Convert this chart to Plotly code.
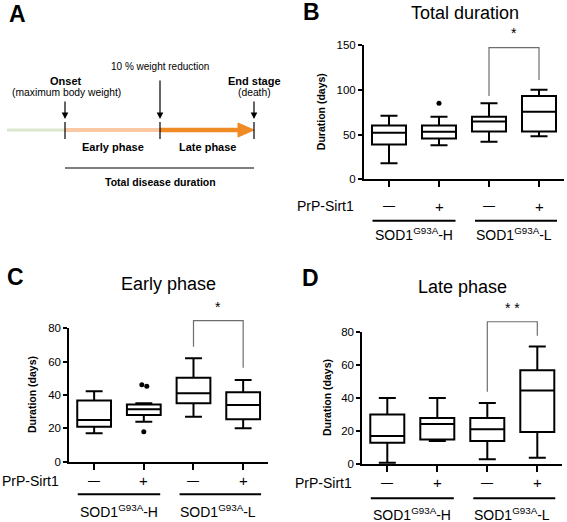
import plotly.graph_objects as go

W, H = 567, 522
FONT = "Liberation Sans, Arial, sans-serif"

# ---- data ----
# order: SOD1-H / -, SOD1-H / +, SOD1-L / -, SOD1-L / +
total_low = [18, 38, 42, 48]
total_q1 = [39, 45.5, 53.5, 53.5]
total_med = [52, 53, 64.5, 75.5]
total_q3 = [60, 60, 70, 93]
total_high = [71, 70, 85, 100]
total_out_x = [1]
total_out_y = [85]

early_low = [17, 24, 27, 20]
early_q1 = [21, 28, 35, 25.5]
early_med = [25, 31.5, 41, 34]
early_q3 = [36.7, 34.3, 50.3, 41.7]
early_high = [42.2, 35, 62, 49]
early_out_x = [1, 1, 1]
early_out_y = [46.2, 45.2, 18]

late_low = [1, 14, 3, 4]
late_q1 = [13, 15, 14, 19.5]
late_med = [17, 24.3, 21.2, 44.5]
late_q3 = [30, 28, 28, 56.7]
late_high = [40, 40, 37, 71]

prp_signs = ["—", "+", "—", "+"]
groups = ["SOD1<sup>G93A</sup>-H", "SOD1<sup>G93A</sup>-L"]


def px_x(x):
    return x / W


def px_y(y):
    return 1 - y / H


def note(x, y, text, size, xref="paper", yref="paper", **kw):
    d = dict(x=x, y=y, xref=xref, yref=yref, text=text, showarrow=False,
             xanchor="center", yanchor="middle",
             font=dict(family=FONT, size=size, color="black"))
    d.update(kw)
    return d


# panel geometry in pixels: (left, right, top, bottom)
panels = {
    "B": dict(box=(364, 564, 45, 179.3), ymax=150, dtick=50, ax="", title="Total duration",
              title_xy=(465, 13), letter_xy=(311, 12), ytitle_x=321,
              prp_y=206, line_y=220.7, grp_y=233.5,
              bracket=(93, 147, 111), star="*", star_y=163,
              stats=(total_low, total_q1, total_med, total_q3, total_high),
              out=(total_out_x, total_out_y)),
    "C": dict(box=(69.3, 268, 328.3, 461.7), ymax=80, dtick=20, ax="2", title="Early phase",
              title_xy=(168, 284), letter_xy=(15, 277), ytitle_x=32,
              prp_y=480.5, line_y=494.3, grp_y=511,
              bracket=(69, 84.6, 56.4), star="*", star_y=93,
              stats=(early_low, early_q1, early_med, early_q3, early_high),
              out=(early_out_x, early_out_y)),
    "D": dict(box=(362.3, 562.3, 331.7, 464.3), ymax=80, dtick=20, ax="3", title="Late phase",
              title_xy=(462, 287), letter_xy=(310, 278), ytitle_x=327,
              prp_y=482.7, line_y=498.3, grp_y=513.5,
              bracket=(43.8, 86, 77.6), star="* *", star_y=94,
              stats=(late_low, late_q1, late_med, late_q3, late_high),
              out=([], [])),
}

fig = go.Figure()
shapes = []
annotations = []

for key, p in panels.items():
    l, r, t, b = p["box"]
    ax = p["ax"]
    xd = [px_x(l), px_x(r)]
    yd = [px_y(b), px_y(t)]
    lo, q1, med, q3, hi = p["stats"]
    fig.add_trace(go.Box(
        x=[0, 1, 2, 3], lowerfence=lo, q1=q1, median=med, q3=q3, upperfence=hi,
        width=0.68, whiskerwidth=0.5, fillcolor="white",
        line=dict(color="black", width=2), boxpoints=False,
        xaxis="x" + ax, yaxis="y" + ax, showlegend=False, hoverinfo="skip"))
    ox, oy = p["out"]
    if ox:
        # spread points that sit on top of each other
        jit = [0, 0, 0]
        if key == "C":
            jit = [-0.04, 0.06, 0]
        fig.add_trace(go.Scatter(
            x=[v + jit[i] for i, v in enumerate(ox)], y=oy, mode="markers",
            marker=dict(color="black", size=5), xaxis="x" + ax, yaxis="y" + ax,
            showlegend=False, hoverinfo="skip", cliponaxis=False))

    fig.layout["xaxis" + ax] = dict(
        domain=xd, range=[-0.5, 3.5], tickvals=[0, 1, 2, 3], showticklabels=False,
        ticks="outside", ticklen=6, tickwidth=2, tickcolor="black",
        showline=True, linewidth=2, linecolor="black", showgrid=False, zeroline=False,
        anchor="y" + ax, fixedrange=True, automargin=False)
    fig.layout["yaxis" + ax] = dict(
        domain=yd, range=[0, p["ymax"]], dtick=p["dtick"], tick0=0,
        ticks="outside", ticklen=4, tickwidth=2, tickcolor="black",
        tickfont=dict(family=FONT, size=11.5, color="black"),
        showline=True, linewidth=2, linecolor="black", showgrid=False, zeroline=False,
        anchor="x" + ax, fixedrange=True, automargin=False)

    def dy(v, yd=yd, ymax=p["ymax"]):
        return yd[0] + v / ymax * (yd[1] - yd[0])

    # significance bracket
    b0, btop, b1 = p["bracket"]
    shapes.append(dict(type="path", xref="x" + ax, yref="paper",
                       path=f"M 2,{dy(b0)} L 2,{dy(btop)} L 3,{dy(btop)} L 3,{dy(b1)}",
                       line=dict(color="#6e6e6e", width=1.2)))
    annotations.append(note(2.5, dy(p["star_y"]), p["star"], 14, xref="x" + ax))

    # titles / letters
    tx, ty = p["title_xy"]
    annotations.append(note(px_x(tx), px_y(ty), p["title"], 18))
    lx, ly = p["letter_xy"]
    annotations.append(note(px_x(lx), px_y(ly), "<b>" + key + "</b>", 23))
    annotations.append(note(px_x(p["ytitle_x"]), (yd[0] + yd[1]) / 2,
                            "<b>Duration (days)</b>", 10.5, textangle=-90))

    # genotype rows under the axis
    annotations.append(note(px_x(l - 8), px_y(p["prp_y"]), "PrP-Sirt1", 14,
                            xanchor="right"))
    for i, s in enumerate(prp_signs):
        annotations.append(note(i, px_y(p["prp_y"]), s, 15 if s == "+" else 12,
                                xref="x" + ax))
    for gi, g in enumerate(groups):
        x0, x1 = (-0.33, 1.33) if gi == 0 else (1.72, 3.36)
        shapes.append(dict(type="line", xref="x" + ax, yref="paper",
                           x0=x0, x1=x1, y0=px_y(p["line_y"]), y1=px_y(p["line_y"]),
                           line=dict(color="black", width=2)))
        annotations.append(note(0.5 + 2 * gi, px_y(p["grp_y"]), g, 14, xref="x" + ax))

# ---- panel A: timeline diagram ----
def seg(x0, y0, x1, y1, color, width):
    shapes.append(dict(type="line", xref="paper", yref="paper",
                       x0=px_x(x0), y0=px_y(y0), x1=px_x(x1), y1=px_y(y1),
                       line=dict(color=color, width=width)))


seg(7, 130, 65, 130, "#dbe7cc", 3)
seg(65, 130, 160, 130, "#fbc8a4", 4)
seg(160, 130, 242, 130, "#f08a24", 4.5)
shapes.append(dict(type="path", xref="paper", yref="paper",
                   path=f"M {px_x(238)},{px_y(123)} L {px_x(254)},{px_y(130)} "
                        f"L {px_x(238)},{px_y(137)} Z",
                   fillcolor="#f08a24", line=dict(color="#f08a24", width=1)))
for xv in (65, 160, 254):
    seg(xv, 122, xv, 139, "black", 1.2)
seg(65, 168, 254, 168, "black", 1.2)

for xv, ytop in ((65, 100), (160, 79), (254, 100)):
    annotations.append(dict(x=px_x(xv), y=px_y(119), xref="paper", yref="paper",
                            ax=0, ay=ytop - 119, axref="pixel", ayref="pixel",
                            text="", showarrow=True, arrowhead=2, arrowsize=1.1,
                            arrowwidth=1.2, arrowcolor="black"))

diagram_text = [
    ("<b>A</b>", 17, 14, 23),
    ("<b>Onset</b>", 66, 81, 11),
    ("(maximum body weight)", 66, 93, 10.3),
    ("10 % weight reduction", 160, 67, 10),
    ("<b>End stage</b>", 254, 81, 11),
    ("(death)", 254, 93, 10.3),
    ("<b>Early phase</b>", 113, 147, 11),
    ("<b>Late phase</b>", 207, 147, 11),
    ("<b>Total disease duration</b>", 160, 182, 10.5),
]
for txt, xv, yv, fs in diagram_text:
    annotations.append(note(px_x(xv), px_y(yv), txt, fs))

fig.update_layout(width=W, height=H, margin=dict(l=0, r=0, t=0, b=0),
                  paper_bgcolor="white", plot_bgcolor="white",
                  shapes=shapes, annotations=annotations, showlegend=False)

# the page body has a default 8px margin; drop it so the figure sits at 0,0
fig.write_html("out.html", config={"displayModeBar": False},
               post_script="document.body.style.margin='0';")
